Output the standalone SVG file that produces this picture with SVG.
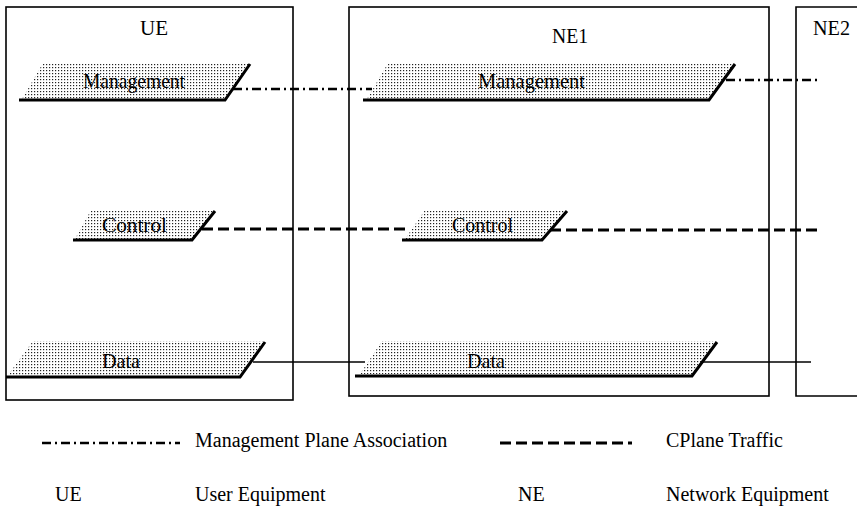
<svg xmlns="http://www.w3.org/2000/svg" width="857" height="510" viewBox="0 0 857 510">
  <defs>
    <pattern id="dots" width="3" height="3" patternUnits="userSpaceOnUse">
      <rect x="1" y="1" width="1.2" height="1.2" fill="#222"/>
    </pattern>
    <style>
      .box { fill: none; stroke: #000; stroke-width: 1.6; }
      .fill { fill: url(#dots); stroke: none; }
      .edge { fill: none; stroke: #000; stroke-width: 3; stroke-linejoin: miter; }
      .lbl { font-family: "Liberation Serif", "Times New Roman", serif; font-size: 20px; fill: #000; }
      .big { font-size: 21px; }
      .mgmt { fill: none; stroke: #000; stroke-width: 2.6; stroke-dasharray: 9 4 2 4; }
      .ctrl { fill: none; stroke: #000; stroke-width: 3; stroke-dasharray: 11 5; }
      .data { fill: none; stroke: #000; stroke-width: 1.4; }
    </style>
  </defs>
  <rect width="857" height="510" fill="#fff"/>

  <g id="UE">
    <rect class="box" x="6" y="7" width="287" height="393"/>
    <text class="lbl big" x="140" y="35" textLength="28" lengthAdjust="spacingAndGlyphs">UE</text>
  </g>
  <g id="NE1">
    <rect class="box" x="349" y="7" width="420" height="389"/>
    <text class="lbl big" x="552" y="43" textLength="36" lengthAdjust="spacingAndGlyphs">NE1</text>
  </g>
  <g id="NE2">
    <path class="box" d="M 870 7 H 796 V 396 H 870"/>
    <text class="lbl big" x="813" y="35" textLength="37" lengthAdjust="spacingAndGlyphs">NE2</text>
  </g>

  <g id="UE-Management">
    <polygon class="fill" points="22,99 43,63 250,63 226,99"/>
    <text class="lbl big" x="83" y="88" textLength="102" lengthAdjust="spacingAndGlyphs">Management</text>
    <polyline class="edge" points="19,100 225,100 250,64"/>
  </g>
  <g id="NE1-Management">
    <polygon class="fill" points="367,99 388,63 735,63 709,99"/>
    <text class="lbl big" x="478" y="88" textLength="107" lengthAdjust="spacingAndGlyphs">Management</text>
    <polyline class="edge" points="363,100 709,100 735,64"/>
  </g>
  <g id="UE-Control">
    <polygon class="fill" points="75,239 91,210 215,210 192,239"/>
    <text class="lbl big" x="102" y="232" textLength="65" lengthAdjust="spacingAndGlyphs">Control</text>
    <polyline class="edge" points="73,240 192,240 215,211"/>
  </g>
  <g id="NE1-Control">
    <polygon class="fill" points="405,239 425,210 567,210 542,239"/>
    <text class="lbl big" x="452" y="232" textLength="61" lengthAdjust="spacingAndGlyphs">Control</text>
    <polyline class="edge" points="402,240 542,240 567,211"/>
  </g>
  <g id="UE-Data">
    <polygon class="fill" points="8,375 33,341 265,341 240,375"/>
    <text class="lbl big" x="102" y="368" textLength="38" lengthAdjust="spacingAndGlyphs">Data</text>
    <polyline class="edge" points="6,377 240,377 265,342"/>
  </g>
  <g id="NE1-Data">
    <polygon class="fill" points="360,374 382,341 717,341 692,374"/>
    <text class="lbl big" x="467" y="368" textLength="38" lengthAdjust="spacingAndGlyphs">Data</text>
    <polyline class="edge" points="355,376 692,376 717,342"/>
  </g>

  <g id="connectors">
    <line class="mgmt" x1="233" y1="89" x2="372" y2="89"/>
    <line class="mgmt" x1="726" y1="80" x2="818" y2="80"/>
    <line class="ctrl" x1="202" y1="229" x2="410" y2="229"/>
    <line class="ctrl" x1="550" y1="230" x2="818" y2="230"/>
    <line class="data" x1="253" y1="362" x2="365" y2="362"/>
    <line class="data" x1="703" y1="362" x2="811" y2="362"/>
  </g>

  <g id="legend">
    <line class="mgmt" x1="42" y1="443" x2="180" y2="443"/>
    <text class="lbl" x="195" y="447">Management Plane Association</text>
    <line class="ctrl" x1="500" y1="443" x2="632" y2="443"/>
    <text class="lbl" x="666" y="447">CPlane Traffic</text>
    <text class="lbl" x="55" y="501">UE</text>
    <text class="lbl" x="195" y="501">User Equipment</text>
    <text class="lbl" x="518" y="501">NE</text>
    <text class="lbl" x="666" y="501">Network Equipment</text>
  </g>
</svg>
